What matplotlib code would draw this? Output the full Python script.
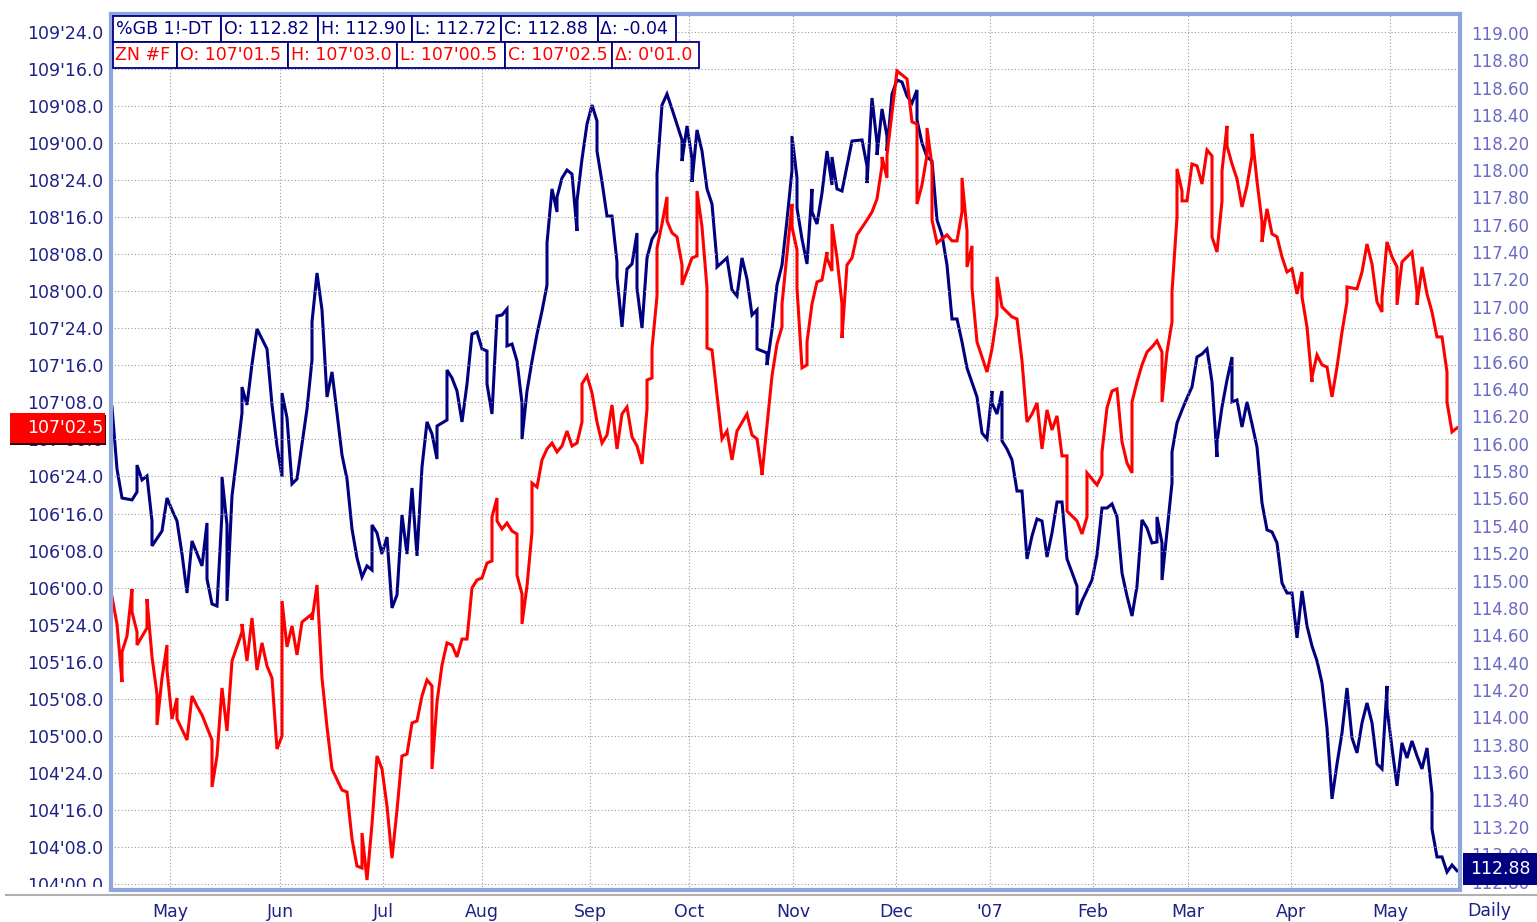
import numpy as np
import matplotlib
matplotlib.use("Agg")
import matplotlib.pyplot as plt
from matplotlib.patches import Rectangle
from matplotlib.lines import Line2D
from matplotlib.transforms import blended_transform_factory

# ZN #F (10y note, 32nds) - left axis, trading day index
red_day = [0, 1, 2, 2, 3, 4, 4, 5, 5, 7,
           7, 8, 9, 9, 10, 11, 11, 12, 13, 13,
           15, 16, 17, 18, 20, 20, 21, 22, 23, 24,
           26, 26, 27, 28, 29, 30, 31, 32, 33, 34,
           34, 34, 35, 36, 37, 38, 40, 40, 41, 42,
           43, 44, 46, 47, 48, 49, 50, 50, 51, 52,
           53, 54, 55, 56, 57, 58, 59, 60, 61, 62,
           63, 64, 64, 65, 66, 67, 68, 69, 70, 71,
           72, 73, 74, 75, 76, 76, 77, 77, 78, 79,
           80, 81, 81, 82, 82, 83, 84, 84, 85, 86,
           87, 88, 89, 90, 91, 92, 93, 94, 94, 95,
           96, 97, 98, 99, 100, 101, 102, 103, 104, 105,
           106, 107, 107, 108, 108, 109, 109, 110, 111, 111,
           112, 113, 114, 114, 116, 117, 117, 117, 118, 119,
           119, 120, 121, 122, 123, 124, 125, 127, 128, 129,
           130, 130, 131, 132, 133, 134, 134, 135, 136, 136,
           137, 137, 138, 139, 139, 140, 141, 142, 143, 143,
           144, 144, 144, 145, 146, 146, 147, 148, 149, 151,
           152, 153, 154, 154, 155, 155, 156, 157, 159, 160,
           161, 161, 162, 163, 163, 164, 164, 165, 166, 167,
           168, 169, 170, 170, 171, 171, 172, 172, 173, 175,
           176, 177, 177, 178, 180, 181, 182, 183, 184, 185,
           186, 187, 188, 189, 190, 191, 191, 193, 194, 195,
           195, 197, 198, 198, 199, 200, 201, 202, 203, 204,
           204, 205, 206, 207, 208, 209, 210, 210, 211, 212,
           212, 213, 213, 214, 214, 215, 216, 217, 218, 219,
           220, 220, 221, 222, 222, 223, 223, 224, 225, 226,
           227, 228, 228, 229, 230, 230, 231, 232, 233, 234,
           235, 236, 237, 238, 238, 239, 240, 240, 241, 242,
           243, 244, 245, 246, 247, 247, 249, 250, 251, 252,
           253, 254, 254, 255, 256, 257, 257, 258, 259, 260,
           261, 261, 262, 263, 264, 265, 266, 267, 267, 268,
           269]
red_val = [105.937, 105.755, 105.363, 105.566, 105.674, 105.991, 105.836, 105.701, 105.613, 105.728,
           105.923, 105.532, 105.282, 105.073, 105.390, 105.613, 105.444, 105.114, 105.255, 105.114,
           104.972, 105.269, 105.201, 105.141, 104.972, 104.655, 104.864, 105.323, 105.033, 105.505,
           105.701, 105.755, 105.505, 105.795, 105.444, 105.627, 105.471, 105.390, 104.911, 104.999,
           105.282, 105.910, 105.600, 105.741, 105.546, 105.768, 105.822, 105.782, 106.018, 105.390,
           105.060, 104.776, 104.634, 104.621, 104.304, 104.121, 104.108, 104.344, 104.027, 104.405,
           104.864, 104.776, 104.526, 104.175, 104.499, 104.864, 104.877, 105.087, 105.100, 105.269,
           105.377, 105.336, 104.776, 105.228, 105.478, 105.627, 105.613, 105.532, 105.653, 105.653,
           105.998, 106.052, 106.065, 106.166, 106.180, 106.477, 106.605, 106.450, 106.396, 106.436,
           106.382, 106.362, 106.085, 105.957, 105.755, 106.011, 106.376, 106.706, 106.679, 106.862,
           106.936, 106.976, 106.916, 106.956, 107.057, 106.956, 106.976, 107.118, 107.375, 107.429,
           107.314, 107.118, 106.976, 107.030, 107.233, 106.936, 107.172, 107.219, 107.017, 106.956,
           106.835, 107.206, 107.401, 107.415, 107.611, 107.968, 108.292, 108.454, 108.637, 108.475,
           108.394, 108.367, 108.178, 108.043, 108.225, 108.238, 108.562, 108.677, 108.434, 108.022,
           107.617, 107.604, 107.300, 107.003, 107.057, 106.862, 107.057, 107.172, 107.030, 107.003,
           106.774, 106.760, 107.091, 107.429, 107.645, 107.759, 107.914, 108.252, 108.589, 108.434,
           108.279, 108.022, 107.483, 107.503, 107.658, 107.914, 108.063, 108.076, 108.265, 108.225,
           108.137, 108.306, 108.454, 108.225, 107.914, 107.685, 108.178, 108.225, 108.380, 108.481,
           108.535, 108.623, 108.846, 108.906, 108.765, 108.920, 109.203, 109.487, 109.433, 109.143,
           109.129, 108.589, 108.718, 108.920, 109.102, 108.846, 108.481, 108.326, 108.353, 108.380,
           108.340, 108.340, 108.535, 108.765, 108.407, 108.164, 108.306, 108.022, 107.658, 107.455,
           107.611, 107.840, 108.097, 107.894, 107.827, 107.813, 107.530, 107.118, 107.172, 107.246,
           106.936, 107.199, 107.064, 107.159, 106.889, 106.889, 106.517, 106.450, 106.362, 106.477,
           106.774, 106.693, 106.760, 106.916, 107.213, 107.327, 107.341, 106.983, 106.841, 106.774,
           107.253, 107.388, 107.503, 107.590, 107.624, 107.665, 107.590, 107.253, 107.590, 107.793,
           107.995, 108.502, 108.826, 108.677, 108.610, 108.610, 108.859, 108.846, 108.724, 108.954,
           108.913, 108.367, 108.265, 108.610, 108.812, 109.116, 108.981, 108.859, 108.758, 108.569,
           108.711, 108.913, 109.062, 108.744, 108.468, 108.333, 108.556, 108.387, 108.367, 108.232,
           108.130, 108.151, 107.982, 108.130, 107.962, 107.759, 107.388, 107.422, 107.570, 107.503,
           107.489, 107.287, 107.489, 107.725, 107.928, 108.029, 108.016, 108.130, 108.319, 108.184,
           107.928, 107.860, 107.962, 108.333, 108.232, 108.164, 107.908, 108.198, 108.232, 108.265,
           107.995, 107.908, 108.164, 107.982, 107.860, 107.692, 107.692, 107.455, 107.253, 107.051,
           107.078]

# %GB 1!-DT - right axis
blue_day = [0, 1, 2, 4, 5, 5, 6, 7, 8, 8,
            10, 11, 12, 13, 14, 15, 16, 18, 19, 19,
            20, 21, 22, 22, 23, 23, 24, 25, 26, 26,
            27, 28, 29, 31, 32, 33, 34, 34, 35, 36,
            37, 39, 40, 40, 41, 42, 43, 44, 45, 46,
            47, 48, 49, 50, 51, 52, 52, 53, 54, 55,
            56, 57, 58, 59, 60, 61, 62, 63, 64, 65,
            65, 67, 67, 68, 69, 70, 71, 72, 73, 74,
            75, 75, 76, 77, 78, 79, 79, 80, 81, 82,
            82, 83, 84, 85, 86, 87, 87, 88, 89, 89,
            90, 91, 92, 93, 93, 94, 95, 96, 97, 97,
            98, 99, 100, 101, 101, 102, 103, 104, 105, 105,
            106, 107, 108, 109, 109, 110, 111, 112, 114, 114,
            115, 116, 116, 117, 118, 119, 120, 121, 121, 123,
            124, 125, 126, 127, 128, 129, 129, 131, 131, 132,
            133, 134, 135, 136, 136, 137, 137, 138, 139, 140,
            140, 141, 142, 143, 144, 144, 145, 146, 147, 148,
            150, 151, 151, 152, 153, 153, 154, 155, 155, 156,
            157, 158, 159, 160, 161, 161, 162, 163, 164, 165,
            166, 167, 168, 169, 170, 171, 173, 174, 175, 176,
            176, 177, 178, 178, 179, 180, 181, 182, 183, 184,
            185, 186, 187, 188, 189, 190, 191, 193, 193, 194,
            196, 197, 198, 199, 200, 201, 202, 203, 204, 205,
            206, 207, 208, 209, 209, 210, 210, 211, 212, 212,
            213, 214, 215, 216, 217, 218, 219, 220, 221, 221,
            222, 223, 224, 224, 225, 226, 227, 228, 229, 230,
            231, 232, 233, 234, 235, 236, 237, 238, 239, 240,
            241, 242, 243, 244, 245, 246, 247, 248, 249, 250,
            251, 252, 253, 254, 255, 255, 256, 257, 258, 259,
            260, 261, 262, 263, 264, 264, 265, 266, 267, 268,
            269]
blue_val = [116.268, 115.815, 115.603, 115.589, 115.647, 115.844, 115.735, 115.764, 115.435, 115.253,
            115.362, 115.603, 115.516, 115.435, 115.194, 114.909, 115.289, 115.107, 115.421, 115.012,
            114.829, 114.814, 115.494, 115.757, 115.406, 114.851, 115.618, 115.917, 116.224, 116.414,
            116.283, 116.582, 116.838, 116.692, 116.283, 115.983, 115.757, 116.370, 116.188, 115.706,
            115.742, 116.253, 116.611, 116.889, 117.247, 116.977, 116.341, 116.524, 116.224, 115.917,
            115.742, 115.377, 115.165, 115.026, 115.107, 115.077, 115.406, 115.348, 115.194, 115.318,
            114.800, 114.895, 115.479, 115.194, 115.676, 115.180, 115.830, 116.159, 116.071, 115.888,
            116.129, 116.173, 116.538, 116.480, 116.385, 116.159, 116.436, 116.801, 116.816, 116.692,
            116.677, 116.436, 116.217, 116.933, 116.940, 116.984, 116.714, 116.728, 116.604, 116.297,
            116.034, 116.385, 116.604, 116.801, 116.969, 117.159, 117.466, 117.861, 117.693, 117.802,
            117.941, 117.999, 117.970, 117.554, 117.773, 118.080, 118.335, 118.474, 118.357, 118.138,
            117.912, 117.663, 117.663, 117.327, 117.218, 116.853, 117.276, 117.313, 117.539, 117.137,
            116.845, 117.357, 117.495, 117.554, 117.970, 118.474, 118.554, 118.445, 118.219, 118.065,
            118.321, 118.080, 117.912, 118.292, 118.138, 117.861, 117.751, 117.327, 117.291, 117.357,
            117.123, 117.079, 117.357, 117.203, 116.940, 116.977, 116.692, 116.663, 116.575, 116.831,
            117.159, 117.305, 117.634, 117.999, 118.248, 117.941, 117.722, 117.495, 117.313, 117.861,
            117.693, 117.605, 117.831, 118.138, 117.890, 118.094, 117.861, 117.846, 118.029, 118.211,
            118.219, 118.029, 117.904, 118.525, 118.197, 118.109, 118.445, 118.248, 118.138, 118.554,
            118.657, 118.642, 118.540, 118.489, 118.584, 118.365, 118.197, 118.094, 118.065, 117.634,
            117.525, 117.305, 116.911, 116.911, 116.743, 116.553, 116.341, 116.078, 116.034, 116.385,
            116.297, 116.217, 116.385, 116.020, 115.961, 115.881, 115.654, 115.654, 115.158, 115.326,
            115.450, 115.435, 115.172, 115.348, 115.574, 115.574, 115.158, 114.960, 114.749, 114.851,
            115.004, 115.187, 115.530, 115.530, 115.560, 115.465, 115.055, 114.887, 114.741, 114.960,
            115.443, 115.384, 115.275, 115.282, 115.465, 115.275, 115.004, 115.355, 115.713, 115.939,
            116.151, 116.246, 116.334, 116.414, 116.633, 116.655, 116.692, 116.451, 115.903, 116.012,
            116.268, 116.465, 116.633, 116.305, 116.319, 116.122, 116.305, 116.144, 115.976, 115.567,
            115.370, 115.355, 115.275, 114.982, 114.909, 114.909, 114.581, 114.924, 114.668, 114.522,
            114.413, 114.252, 113.923, 113.405, 113.660, 113.887, 114.215, 113.850, 113.741, 113.960,
            114.106, 113.960, 113.660, 113.624, 114.230, 114.069, 113.777, 113.500, 113.814, 113.704,
            113.828, 113.719, 113.624, 113.777, 113.441, 113.185, 112.981, 112.981, 112.871, 112.922,
            112.880]

month_pos = [11.6, 33.6, 54.2, 74.0, 95.6, 115.4, 136.2, 156.8, 175.6, 196.2, 215.2, 235.8, 255.6]
month_labels = ["May", "Jun", "Jul", "Aug", "Sep", "Oct", "Nov", "Dec", "'07", "Feb", "Mar", "Apr", "May"]

blue_header = ["%GB 1!-DT", "O: 112.82", "H: 112.90", "L: 112.72", "C: 112.88", "\u0394: -0.04"]
red_header = ["ZN #F", "O: 107'01.5", "H: 107'03.0", "L: 107'00.5", "C: 107'02.5", "\u0394: 0'01.0"]

NAVY = "#000080"
RED = "#ff0000"
BORDER = "#8fa6dd"
LBL = "#1f2185"


def fmt32(v):
    whole = int(np.floor(v + 1e-9))
    frac = (v - whole) * 32
    return f"{whole}'{frac:04.1f}"


W, H = 1537, 922
fig = plt.figure(figsize=(W / 100, H / 100), dpi=100, facecolor="white")
ax = fig.add_axes([110.5 / W, 1 - 889.5 / H, (1460 - 110.5) / W, (889.5 - 14) / H])
ax2 = ax.twinx()
ax.set_zorder(ax2.get_zorder() + 1)
ax.patch.set_visible(False)
ax2.patch.set_facecolor("white")

ax2.plot(blue_day, blue_val, color=NAVY, lw=2.2, solid_joinstyle="miter")
ax.plot(red_day, red_val, color=RED, lw=2.2, solid_joinstyle="miter")

ax.set_xlim(-0.3, 269.6)
ax.set_ylim(103.963, 109.871)
ax2.set_ylim(112.743, 119.139)

lticks = np.arange(104.0, 109.76, 0.25)
ax.set_yticks(lticks)
ax.set_yticklabels([fmt32(v) for v in lticks])
rticks = np.arange(112.8, 119.01, 0.2)
ax2.set_yticks(rticks)
ax2.set_yticklabels([f"{v:.2f}" for v in rticks])
ax.set_xticks(month_pos)
ax.set_xticklabels(month_labels)

ax.set_axisbelow(True)
ax.grid(True, color="#9a9a9a", linestyle=(0, (1, 2)), lw=0.8)
ax.tick_params(axis="y", length=0, pad=5.2, labelsize=12.5, labelcolor=LBL)
ax.tick_params(axis="x", length=0, pad=10, labelsize=12.5, labelcolor=LBL)
ax2.tick_params(axis="y", length=0, pad=8, labelsize=12, labelcolor="#6a6ac4")

for s in ax.spines.values():
    s.set_color(BORDER)
    s.set_linewidth(3)
for s in ax2.spines.values():
    s.set_visible(False)

# header boxes
aw = 1460 - 110.5
ah = 889.5 - 14


def header(cells, widths, top_px, color):
    tb = ax.table(cellText=[cells], colWidths=widths, cellLoc="left",
                  bbox=[(113 - 110.5) / aw, (889.5 - top_px - 26) / ah, sum(widths) / aw, 26 / ah])
    tb.auto_set_font_size(False)
    tb.set_fontsize(12.5)
    tb.set_zorder(6)
    for c in tb.get_celld().values():
        c.PAD = 0.03
        c.set_edgecolor(NAVY)
        c.set_linewidth(1.3)
        c.set_facecolor("white")
        c.get_text().set_color(color)
    return tb


header(blue_header, [108, 97, 94, 89, 97, 78], 16, NAVY)
header(red_header, [64, 111, 109, 108, 107, 87], 42, RED)

# last price markers
tr_red = blended_transform_factory(fig.transFigure, ax.transData)
hr = 30 / 148.16
last_r = red_val[-1]
ax.add_patch(Rectangle((10 / W, last_r - hr / 2 - 0.012), 96 / W, hr, transform=tr_red,
                       facecolor="#300000", edgecolor="none", clip_on=False, zorder=9))
ax.add_patch(Rectangle((10 / W, last_r - hr / 2), 95 / W, hr, transform=tr_red,
                       facecolor=RED, edgecolor="none", clip_on=False, zorder=10))
ax.text(103 / W, last_r, fmt32(last_r), transform=tr_red, ha="right", va="center",
        color="white", fontsize=12.5, zorder=11, clip_on=False)

tr_blue = blended_transform_factory(fig.transFigure, ax2.transData)
hb = 32 / 136.9
last_b = blue_val[-1]
ax2.add_patch(Rectangle((1463 / W, last_b - hb / 2 + 0.01), 74 / W, hb, transform=tr_blue,
                        facecolor=NAVY, edgecolor="none", clip_on=False, zorder=10))
ax2.text(1470 / W, last_b + 0.01, f"{last_b:.2f}", transform=tr_blue, ha="left", va="center",
         color="white", fontsize=12.5, zorder=11, clip_on=False)

# bottom strip
fig.add_artist(Rectangle((0, (H - 895) / H), 108 / W, 8 / H, transform=fig.transFigure,
                         facecolor="white", edgecolor="none", zorder=20))
fig.add_artist(Line2D([6 / W, 1], [(H - 895) / H] * 2, transform=fig.transFigure,
                      color="#b0b0b0", lw=1.5, zorder=21))
fig.text(1467 / W, 1 - 911 / H, "Daily", ha="left", va="center", fontsize=12.5, color=LBL)

fig.savefig("out.png", dpi=100, facecolor="white")
